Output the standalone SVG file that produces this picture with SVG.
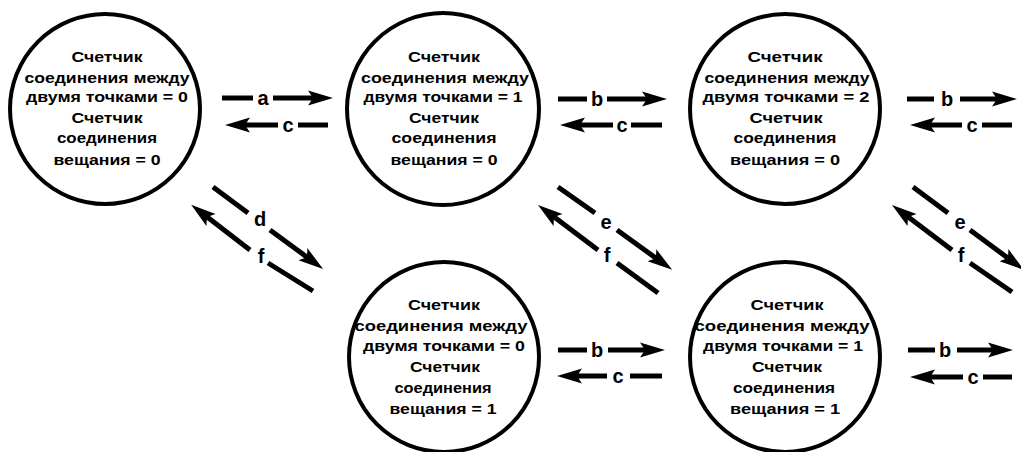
<svg xmlns="http://www.w3.org/2000/svg" width="1021" height="452" viewBox="0 0 1021 452">
<defs>
<marker id="ah" markerUnits="userSpaceOnUse" markerWidth="30" markerHeight="18" viewBox="0 -9 28 18" refX="8" refY="0" orient="auto">
<path d="M0,-7.5 L25,0 L0,7.5 L5,0 Z" fill="#000"/>
</marker>
<style>
.st{fill:#fff;stroke:#000;stroke-width:4}
.t{font-family:"Liberation Sans",Arial,sans-serif;font-weight:bold;font-size:14px;fill:#000;text-anchor:middle}
.l{font-family:"Liberation Sans",Arial,sans-serif;font-weight:bold;font-size:20px;fill:#000;text-anchor:middle}
.c line{stroke:#000;stroke-width:5;fill:none}
.c .a{marker-end:url(#ah)}
</style>
</defs>
<rect width="1021" height="452" fill="#fff"/>

<g id="s00">
<circle class="st" cx="105" cy="109" r="95"/>
<text class="t" x="107" y="62" textLength="71" lengthAdjust="spacingAndGlyphs">Счетчик</text>
<text class="t" x="107" y="83" textLength="165" lengthAdjust="spacingAndGlyphs">соединения между</text>
<text class="t" x="107" y="102" textLength="162" lengthAdjust="spacingAndGlyphs">двумя точками = 0</text>
<text class="t" x="107" y="123" textLength="71" lengthAdjust="spacingAndGlyphs">Счетчик</text>
<text class="t" x="107" y="143" textLength="100" lengthAdjust="spacingAndGlyphs">соединения</text>
<text class="t" x="107" y="165" textLength="107" lengthAdjust="spacingAndGlyphs">вещания = 0</text>
</g>
<g id="s10">
<circle class="st" cx="443" cy="109" r="96"/>
<text class="t" x="444" y="62" textLength="72" lengthAdjust="spacingAndGlyphs">Счетчик</text>
<text class="t" x="445" y="83" textLength="168" lengthAdjust="spacingAndGlyphs">соединения между</text>
<text class="t" x="443" y="102" textLength="159" lengthAdjust="spacingAndGlyphs">двумя точками = 1</text>
<text class="t" x="444" y="123" textLength="70" lengthAdjust="spacingAndGlyphs">Счетчик</text>
<text class="t" x="444" y="143" textLength="105" lengthAdjust="spacingAndGlyphs">соединения</text>
<text class="t" x="444" y="165" textLength="107" lengthAdjust="spacingAndGlyphs">вещания = 0</text>
</g>
<g id="s20">
<circle class="st" cx="785" cy="109" r="95"/>
<text class="t" x="785" y="62" textLength="75" lengthAdjust="spacingAndGlyphs">Счетчик</text>
<text class="t" x="787" y="83" textLength="165" lengthAdjust="spacingAndGlyphs">соединения между</text>
<text class="t" x="786" y="102" textLength="167" lengthAdjust="spacingAndGlyphs">двумя точками = 2</text>
<text class="t" x="786" y="123" textLength="73" lengthAdjust="spacingAndGlyphs">Счетчик</text>
<text class="t" x="785" y="143" textLength="103" lengthAdjust="spacingAndGlyphs">соединения</text>
<text class="t" x="785" y="165" textLength="110" lengthAdjust="spacingAndGlyphs">вещания = 0</text>
</g>
<g id="s01">
<circle class="st" cx="444" cy="357" r="95"/>
<text class="t" x="444" y="310" textLength="72" lengthAdjust="spacingAndGlyphs">Счетчик</text>
<text class="t" x="441" y="331" textLength="173" lengthAdjust="spacingAndGlyphs">соединения между</text>
<text class="t" x="444" y="351" textLength="162" lengthAdjust="spacingAndGlyphs">двумя точками = 0</text>
<text class="t" x="445" y="372" textLength="70" lengthAdjust="spacingAndGlyphs">Счетчик</text>
<text class="t" x="443" y="393" textLength="97" lengthAdjust="spacingAndGlyphs">соединения</text>
<text class="t" x="443" y="414" textLength="107" lengthAdjust="spacingAndGlyphs">вещания = 1</text>
</g>
<g id="s11">
<circle class="st" cx="785" cy="357" r="95"/>
<text class="t" x="787" y="310" textLength="73" lengthAdjust="spacingAndGlyphs">Счетчик</text>
<text class="t" x="782" y="331" textLength="175" lengthAdjust="spacingAndGlyphs">соединения между</text>
<text class="t" x="783" y="351" textLength="160" lengthAdjust="spacingAndGlyphs">двумя точками = 1</text>
<text class="t" x="787" y="372" textLength="70" lengthAdjust="spacingAndGlyphs">Счетчик</text>
<text class="t" x="784" y="393" textLength="102" lengthAdjust="spacingAndGlyphs">соединения</text>
<text class="t" x="785" y="414" textLength="110" lengthAdjust="spacingAndGlyphs">вещания = 1</text>
</g>

<g id="connectors" class="c">
<!-- row 1: s00 <-> s10 -->
<line x1="222" y1="98" x2="253" y2="98"/>
<text class="l" x="263" y="105">a</text>
<line class="a" x1="273" y1="98" x2="316" y2="98"/>
<line class="a" x1="278" y1="125" x2="242" y2="125"/>
<text class="l" x="288" y="132">c</text>
<line x1="298" y1="125" x2="328" y2="125"/>
<!-- s10 <-> s20 -->
<line x1="558" y1="99" x2="587" y2="99"/>
<text class="l" x="597" y="106">b</text>
<line class="a" x1="607" y1="99" x2="650" y2="99"/>
<line class="a" x1="613" y1="125" x2="577" y2="125"/>
<text class="l" x="622" y="132">c</text>
<line x1="631" y1="125" x2="662" y2="125"/>
<!-- s20 -> right -->
<line x1="907" y1="99" x2="934" y2="99"/>
<text class="l" x="947" y="106">b</text>
<line class="a" x1="960" y1="99" x2="1000" y2="99"/>
<line class="a" x1="962" y1="125" x2="927" y2="125"/>
<text class="l" x="972" y="132">c</text>
<line x1="982" y1="125" x2="1012" y2="125"/>
<!-- row 2: s01 <-> s11 -->
<line x1="558" y1="350" x2="587" y2="350"/>
<text class="l" x="597" y="357">b</text>
<line class="a" x1="608" y1="350" x2="648" y2="350"/>
<line class="a" x1="607" y1="376" x2="574" y2="376"/>
<text class="l" x="618" y="383">c</text>
<line x1="630" y1="376" x2="662" y2="376"/>
<!-- s11 -> right -->
<line x1="908" y1="350" x2="935" y2="350"/>
<text class="l" x="945" y="357">b</text>
<line class="a" x1="957" y1="350" x2="996" y2="350"/>
<line class="a" x1="963" y1="377" x2="927" y2="377"/>
<text class="l" x="973" y="384">c</text>
<line x1="983" y1="377" x2="1012" y2="377"/>
<!-- diagonal s00 <-> s01 -->
<line x1="213" y1="187" x2="248" y2="213"/>
<text class="l" x="260" y="226">d</text>
<line class="a" x1="270" y1="230" x2="309.4" y2="258.9"/>
<line class="a" x1="250" y1="250" x2="204.6" y2="215.1"/>
<text class="l" x="261" y="263">f</text>
<line x1="268" y1="263" x2="313" y2="291"/>
<!-- diagonal s10 <-> s11 -->
<line x1="558" y1="187" x2="595" y2="213"/>
<text class="l" x="606" y="229">e</text>
<line class="a" x1="617" y1="230" x2="658.4" y2="259.9"/>
<line class="a" x1="598" y1="250" x2="551.6" y2="215.1"/>
<text class="l" x="607" y="262">f</text>
<line x1="617" y1="263" x2="658" y2="293"/>
<!-- diagonal s20 -> lower right -->
<line x1="913" y1="187" x2="948" y2="213"/>
<text class="l" x="960" y="229">e</text>
<line class="a" x1="970" y1="230" x2="1010.4" y2="259.9"/>
<line class="a" x1="952" y1="250" x2="905.6" y2="215.1"/>
<text class="l" x="961" y="262">f</text>
<line x1="970" y1="263" x2="1012" y2="292"/>
</g>
</svg>
